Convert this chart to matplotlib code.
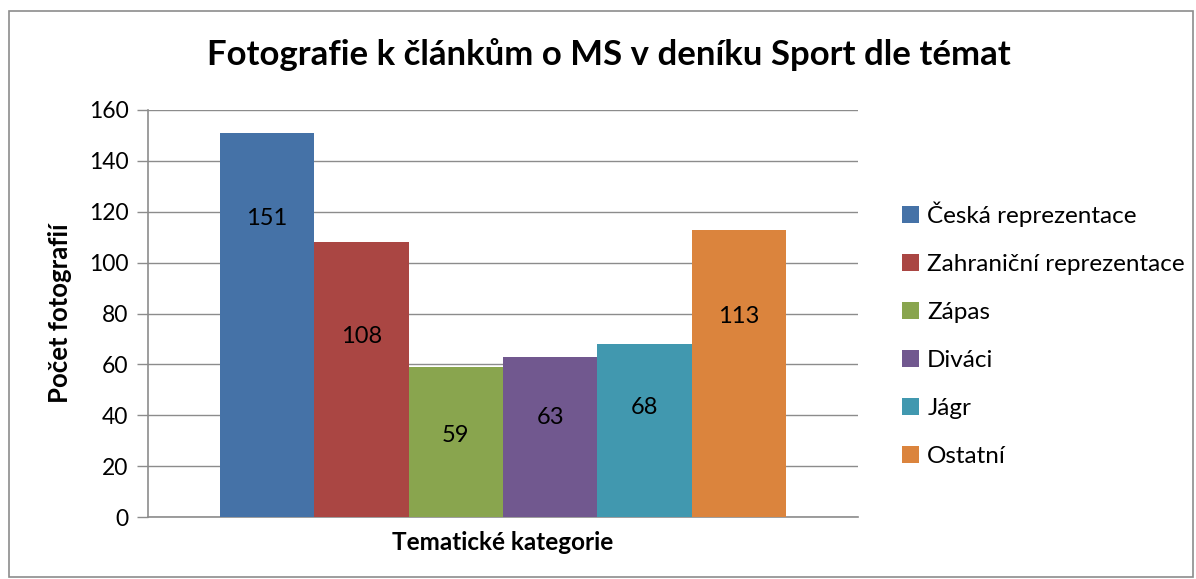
import numpy as np
import matplotlib.pyplot as plt
from matplotlib.patches import Rectangle

# Data
kategorie = ['Česká reprezentace', 'Zahraniční reprezentace', 'Zápas',
             'Diváci', 'Jágr', 'Ostatní']
pocty = [151, 108, 59, 63, 68, 113]
barvy = ['#4572a7', '#aa4643', '#89a54e', '#71588f', '#4198af', '#db843d']
# where Excel put the data labels (value units)
popisky_y = [117.5, 71, 32, 39, 43, 79]

plt.rcParams['font.family'] = ['Lato', 'DejaVu Sans']

fig = plt.figure(figsize=(11.96, 5.79), dpi=100)
ax = fig.add_axes([148/1196, 1 - 517/579, (858-148)/1196, (517-110)/579])

sirka = 0.1329
for i, (k, v) in enumerate(zip(kategorie, pocty)):
    x = 0.5 + (i - 2.5) * sirka
    ax.bar(x, v, width=sirka, color=barvy[i], label=k, zorder=3)
    ax.text(x, popisky_y[i], str(v), ha='center', va='center', fontsize=17, zorder=4)

ax.set_xlim(0, 1)
ax.set_ylim(0, 160)
ax.set_yticks(np.arange(0, 161, 20))
ax.set_xticks([])
ax.grid(axis='y', color='#8c8c8c', linewidth=1, zorder=0)
for s in ['top', 'right']:
    ax.spines[s].set_visible(False)
for s in ['left', 'bottom']:
    ax.spines[s].set_color('#8c8c8c')
    ax.spines[s].set_linewidth(1.2)
ax.tick_params(axis='y', length=8, color='#8c8c8c', width=1, labelsize=16.5, pad=6)

ax.set_ylabel('Počet fotografií', fontsize=18.5, fontweight='bold', labelpad=12)
ax.set_xlabel('Tematické kategorie', fontsize=17.5, fontweight='bold', labelpad=10)

fig.text(609/1196, 1 - 55/579, 'Fotografie k článkům o MS v deníku Sport dle témat',
         ha='center', va='center', fontsize=25, fontweight='bold')

leg = fig.legend(loc='upper left', bbox_to_anchor=(892/1196, 1 - 192/579),
                 frameon=False, fontsize=17.5, handlelength=0.7, handleheight=0.7,
                 handletextpad=0.35, labelspacing=1.11, borderaxespad=0)

fig.patches.append(Rectangle((9/1196, 1 - 577/579), (1193-9)/1196, (577-11)/579,
                             transform=fig.transFigure, fill=False,
                             edgecolor='#8c8c8c', linewidth=1.2))

plt.savefig('out.png', dpi=100)
